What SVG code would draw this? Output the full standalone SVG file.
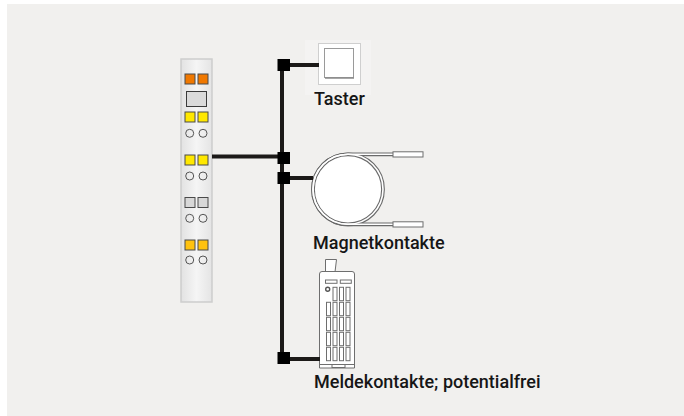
<svg xmlns="http://www.w3.org/2000/svg" width="684" height="416" viewBox="0 0 684 416">
  <defs>
    <linearGradient id="stripFill" x1="0" y1="0" x2="1" y2="0">
      <stop offset="0" stop-color="#e2e2e2"/>
      <stop offset="0.5" stop-color="#f5f5f5"/>
      <stop offset="1" stop-color="#e4e4e4"/>
    </linearGradient>
  </defs>
  <style>
    .lbl { font-family: Roboto, "Liberation Sans", sans-serif; font-size: 18px; font-weight: 500; fill: #161616; }
    .wire { stroke: #1c1a18; stroke-width: 4; fill: none; }
    .node { fill: #000; }
    .led { stroke: #4a4a4a; stroke-width: 1; }
    .term { fill: none; stroke: #555; stroke-width: 1; }
    .thin { fill: #fff; stroke: #6e6e6e; stroke-width: 1; }
  </style>

  <!-- backdrop -->
  <rect x="0" y="0" width="684" height="416" fill="#ffffff"/>
  <rect x="7" y="4" width="677" height="412" fill="#f1f0ee"/>

  <!-- I/O module -->
  <g id="module">
    <rect x="181" y="59" width="31" height="243" fill="url(#stripFill)" stroke="#cdcdcd" stroke-width="1.5"/>
    <rect class="led" x="185" y="74" width="10" height="10" fill="#f07800"/>
    <rect class="led" x="198" y="74" width="10" height="10" fill="#f07800"/>
    <rect x="186.5" y="91.5" width="20" height="15" fill="#dadada" stroke="#3a3a3a" stroke-width="1"/>
    <rect class="led" x="185" y="112" width="10" height="10" fill="#ffe800"/>
    <rect class="led" x="198" y="112" width="10" height="10" fill="#ffe800"/>
    <circle class="term" cx="189.7" cy="133.3" r="4"/>
    <circle class="term" cx="203" cy="133.3" r="4"/>
    <rect class="led" x="185" y="155" width="10" height="10" fill="#ffe800"/>
    <rect class="led" x="198" y="155" width="10" height="10" fill="#ffe800"/>
    <circle class="term" cx="189.7" cy="176" r="4"/>
    <circle class="term" cx="203" cy="176" r="4"/>
    <rect class="led" x="185" y="197.5" width="10" height="10" fill="#d8d8d8"/>
    <rect class="led" x="198" y="197.5" width="10" height="10" fill="#d8d8d8"/>
    <circle class="term" cx="189.7" cy="218.3" r="4"/>
    <circle class="term" cx="203" cy="218.3" r="4"/>
    <rect class="led" x="185" y="240" width="10" height="10" fill="#ffc20e"/>
    <rect class="led" x="198" y="240" width="10" height="10" fill="#ffc20e"/>
    <circle class="term" cx="189.7" cy="260" r="4"/>
    <circle class="term" cx="203" cy="260" r="4"/>
  </g>

  <!-- push button -->
  <g id="taster">
    <rect x="305" y="40" width="66" height="55" fill="#f4f3f2"/>
    <rect x="318.5" y="43.5" width="42" height="41" fill="#fff" stroke="#cfcfcf" stroke-width="1"/>
    <rect x="324.5" y="48.5" width="29" height="29" fill="#fff" stroke="#9a9a9a" stroke-width="1"/>
    <line x1="325" y1="78" x2="354" y2="78" stroke="#8a8a8a" stroke-width="1.5"/>
    <text class="lbl" x="314" y="105">Taster</text>
  </g>

  <!-- reed contact with looped cable -->
  <g id="magnetkontakte">
    <path d="M395,154.3 H348 A35,35 0 1,0 348,224.3 H395" fill="none" stroke="#6a6a6a" stroke-width="3.8"/>
    <circle cx="348" cy="189.3" r="35" fill="#fff" stroke="#6a6a6a" stroke-width="3.8"/>
    <path d="M395,154.3 H348 A35,35 0 1,0 348,224.3 H395" fill="none" stroke="#fff" stroke-width="1.6"/>
    <circle cx="348" cy="189.3" r="35" fill="none" stroke="#fff" stroke-width="1.6"/>
    <rect class="thin" x="393" y="151.8" width="30" height="5.2"/>
    <rect class="thin" x="393" y="221.8" width="30" height="5.2"/>
    <text class="lbl" x="313" y="249">Magnetkontakte</text>
  </g>

  <!-- signalling contacts module -->
  <g id="meldekontakte">
    <path class="thin" d="M325.5,272 V259.5 H336.5 L335,272 Z"/>
    <path class="thin" d="M319.5,368 V274 Q319.5,271.5 322,271.5 H352 Q354.5,271.5 354.5,274 V368 Z"/>
    <rect class="thin" x="332" y="364.5" width="13" height="3"/>
    <line x1="320" y1="364.5" x2="354" y2="364.5" stroke="#6e6e6e" stroke-width="1"/>
    <rect class="thin" x="325.5" y="280" width="11.5" height="3.3"/>
    <rect class="thin" x="340.3" y="280" width="11" height="3.3"/>
    <circle cx="327.7" cy="289.3" r="2" fill="#fff" stroke="#555" stroke-width="1.4"/>
    <g class="thin">
      <rect x="333" y="287.3" width="4" height="13.4"/>
      <rect x="339.5" y="287.3" width="4" height="13.4"/>
      <rect x="346" y="287.3" width="4" height="13.4"/>
      <rect x="326.5" y="302.3" width="4" height="13.4"/>
      <rect x="333" y="302.3" width="4" height="13.4"/>
      <rect x="339.5" y="302.3" width="4" height="13.4"/>
      <rect x="346" y="302.3" width="4" height="13.4"/>
      <rect x="326.5" y="317.3" width="4" height="13.4"/>
      <rect x="333" y="317.3" width="4" height="13.4"/>
      <rect x="339.5" y="317.3" width="4" height="13.4"/>
      <rect x="346" y="317.3" width="4" height="13.4"/>
      <rect x="326.5" y="332.3" width="4" height="13.4"/>
      <rect x="333" y="332.3" width="4" height="13.4"/>
      <rect x="339.5" y="332.3" width="4" height="13.4"/>
      <rect x="346" y="332.3" width="4" height="13.4"/>
      <rect x="326.5" y="347.3" width="4" height="13.4"/>
      <rect x="333" y="347.3" width="4" height="13.4"/>
      <rect x="339.5" y="347.3" width="4" height="13.4"/>
      <rect x="346" y="347.3" width="4" height="13.4"/>
    </g>
    <text class="lbl" x="314" y="388">Meldekontakte; potentialfrei</text>
  </g>

  <!-- bus wiring and junctions -->
  <g id="connectors">
    <line class="wire" x1="282" y1="60" x2="282" y2="362"/>
    <line class="wire" x1="212" y1="156.5" x2="282" y2="156.5"/>
    <line class="wire" x1="284" y1="65" x2="319" y2="65"/>
    <line class="wire" x1="284" y1="178" x2="313" y2="178"/>
    <line class="wire" x1="284" y1="359" x2="320" y2="359"/>
    <rect class="node" x="277.5" y="59" width="12.5" height="12"/>
    <rect class="node" x="277.5" y="152" width="12.5" height="12"/>
    <rect class="node" x="277.5" y="172" width="12.5" height="12"/>
    <rect class="node" x="277.5" y="352" width="12.5" height="12"/>
  </g>
</svg>
